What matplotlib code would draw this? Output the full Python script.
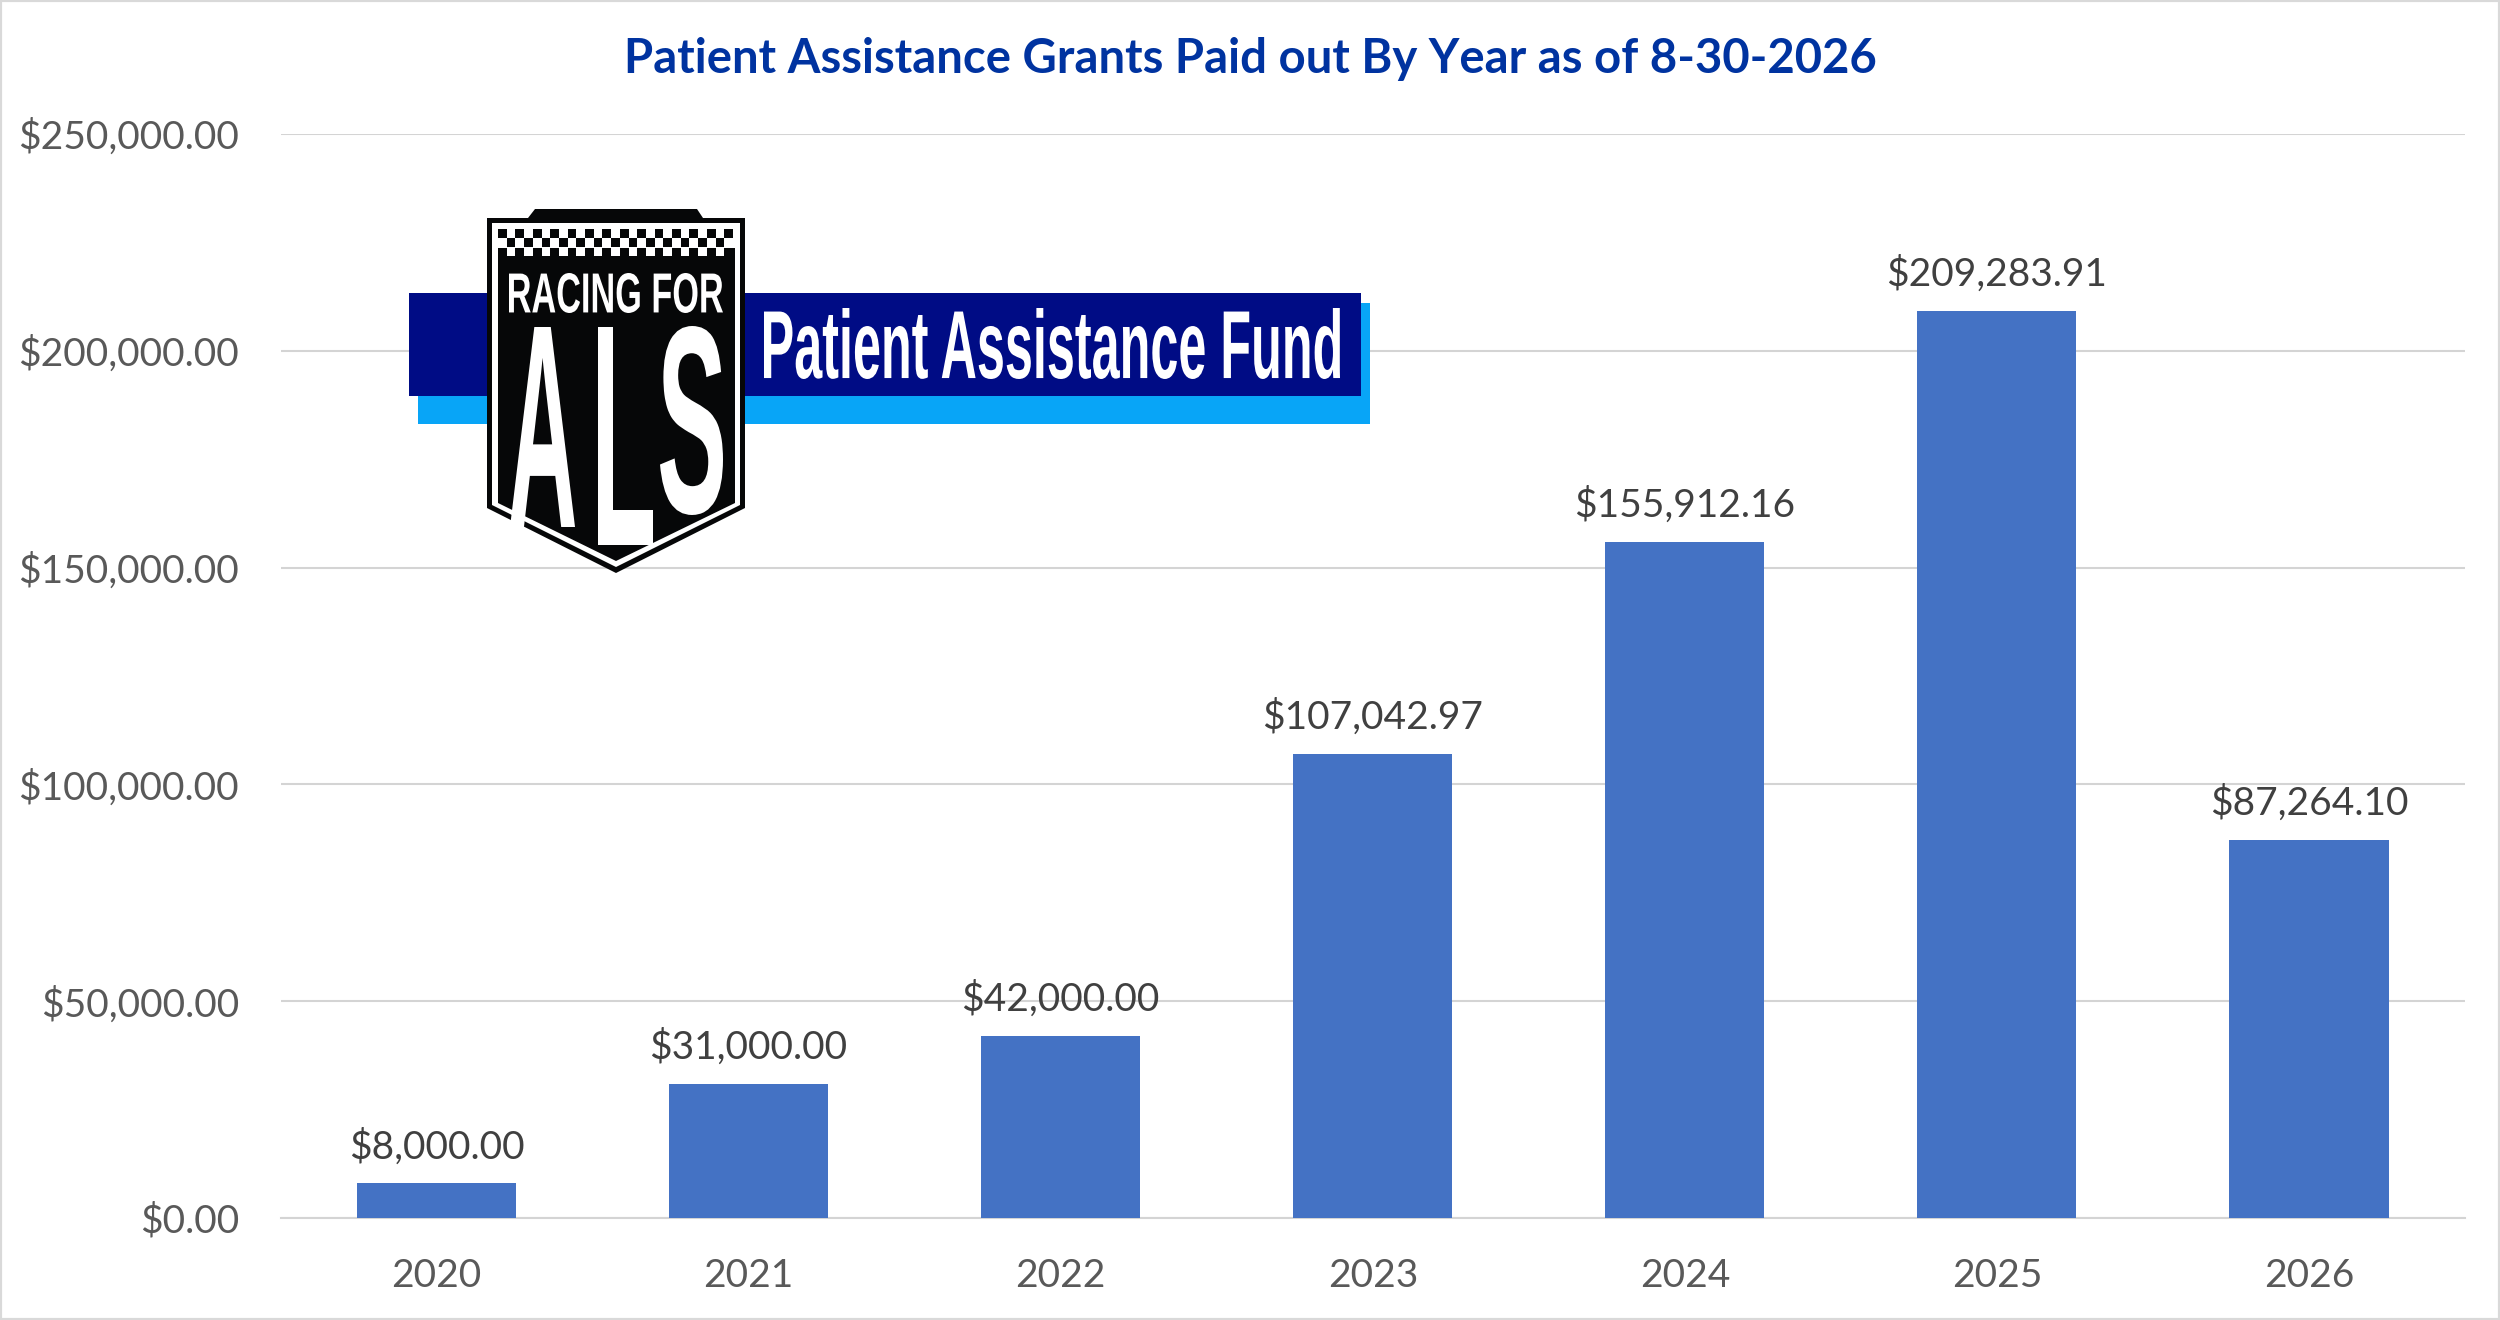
import matplotlib
matplotlib.use('Agg')
import matplotlib.pyplot as plt
from matplotlib.font_manager import FontProperties
from matplotlib.patches import Polygon, Rectangle
from matplotlib.patheffects import AbstractPathEffect
from matplotlib.textpath import TextPath
from matplotlib.ticker import FuncFormatter
from matplotlib.transforms import Affine2D

years = ['2020', '2021', '2022', '2023', '2024', '2025', '2026']
grants = [8000.00, 31000.00, 42000.00, 107042.97, 155912.16, 209283.91, 87264.10]
y_ticks = [0, 50000, 100000, 150000, 200000, 250000]
chart_title = 'Patient Assistance Grants Paid out By Year as of 8-30-2026'

W, H = 2500, 1320
plt.rcParams['font.family'] = ['Lato', 'DejaVu Sans']


class Stretch(AbstractPathEffect):
    # squeezes real text so it fits the logo lettering
    def __init__(self, sx, sy):
        super().__init__()
        self.sx = sx
        self.sy = sy

    def draw_path(self, renderer, gc, tpath, affine, rgbFace=None):
        renderer.draw_path(gc, tpath, Affine2D().scale(self.sx, self.sy) + affine, rgbFace)


def fit_text(ax, s, x0, x1, top, bottom, color='white', clip=None, weight='bold'):
    fp = FontProperties(family=['Liberation Sans Narrow', 'Liberation Sans'], weight=weight, size=40)
    ext = TextPath((0, 0), s, size=40, prop=fp).get_extents()
    sx = (x1 - x0) / (ext.width * 100 / 72)
    sy = (bottom - top) / (ext.height * 100 / 72)
    t = ax.text(x0 - ext.x0 * sx * 100 / 72, bottom + ext.y0 * sy * 100 / 72, s, color=color,
                fontproperties=fp, ha='left', va='baseline')
    t.set_path_effects([Stretch(sx, sy)])
    if clip is not None:
        t.set_clip_path(clip)
    return t


def draw_logo(ax):
    # banner behind the shield
    ax.add_patch(Rectangle((418, 303), 952, 121, fc='#08A5F7', ec='none'))
    ax.add_patch(Rectangle((408.5, 293), 952.5, 103, fc='#000C85', ec='none'))
    fit_text(ax, 'Patient Assistance Fund', 764, 1340, 308, 379)

    # shield: black outline, white band, black inside
    ax.add_patch(Polygon([(487, 218), (528, 218), (535, 209), (697, 209), (703, 218), (745, 218),
                          (745, 508), (616, 573), (487, 508)], fc='#060708', ec='none'))
    ax.add_patch(Polygon([(492, 223), (740, 223), (740, 505), (616, 567), (492, 505)], fc='white', ec='none'))
    ax.add_patch(Polygon([(498, 248), (735, 248), (735, 503), (616, 561), (498, 503)], fc='#060708', ec='none'))

    # checker strip
    cell = (733 - 498) / 27
    row_h = 9
    for r in range(3):
        for c in range(27):
            x = 498 + c * cell
            y = 229 + r * row_h
            if r == 2:
                if c % 2 == 1:
                    ax.add_patch(Rectangle((x, y), cell, row_h, fc='white', ec='none'))
            elif (r + c) % 2 == 0:
                ax.add_patch(Rectangle((x, y), cell, row_h, fc='#060708', ec='none'))

    fit_text(ax, 'RACING FOR', 509, 723, 273, 313)

    clip = Polygon([(500, 320), (730, 320), (730, 478), (616, 547), (500, 490)],
                   transform=ax.transData, fc='none', ec='none')
    ax.add_patch(clip)
    fit_text(ax, 'A', 510, 575, 327, 527, clip=clip)
    fit_text(ax, 'L', 598, 653, 327, 545, clip=clip)
    fit_text(ax, 'S', 660, 723, 326, 515, clip=clip)


fig = plt.figure(figsize=(W / 100, H / 100), dpi=100, facecolor='white')
ax = fig.add_axes([280.5 / W, (H - 1218) / H, 2184.5 / W, 1084 / H])

xs = range(len(years))
ax.bar(xs, grants, width=0.51, color='#4472C4', zorder=3)
ax.set_xlim(-0.5, 6.5)
ax.set_ylim(0, 250000)
ax.set_xticks(list(xs), years)
ax.set_yticks(y_ticks)
ax.yaxis.set_major_formatter(FuncFormatter(lambda v, p: f'${v:,.2f}'))
ax.grid(axis='y', color='#D4D4D4', lw=1.5, zorder=0)
ax.set_axisbelow(True)
for s in ax.spines.values():
    s.set_visible(False)
ax.spines['bottom'].set_visible(True)
ax.spines['bottom'].set_color('#D4D4D4')
ax.spines['bottom'].set_linewidth(1.5)
ax.tick_params(axis='y', length=0, pad=30, labelsize=28, labelcolor='#595959')
ax.tick_params(axis='x', length=0, pad=29, labelsize=28, labelcolor='#595959')

for i, v in enumerate(grants):
    ax.annotate(f'${v:,.2f}', (i, v), xytext=(0, 18), textcoords='offset points',
                ha='center', va='baseline', fontsize=28, color='#404040')

fig.text(0.5, 1 - 59 / H, chart_title, ha='center', va='center', fontsize=34,
         fontweight='bold', color='#0033A0')

# logo layer in pixel coordinates
logo = fig.add_axes([0, 0, 1, 1], zorder=5)
logo.set_xlim(0, W)
logo.set_ylim(H, 0)
logo.axis('off')
draw_logo(logo)

fig.add_artist(Rectangle((0, 0), 1, 1, transform=fig.transFigure, fc='none', ec='#D9D9D9', lw=3))

fig.savefig('out.png', dpi=100)
